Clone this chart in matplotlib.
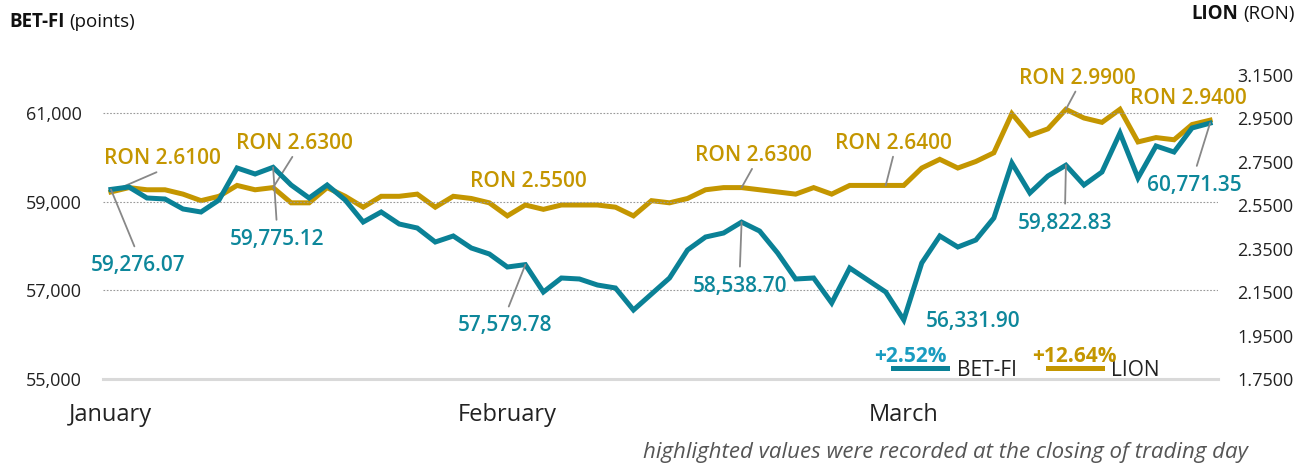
import numpy as np
import matplotlib
matplotlib.use('Agg')
import matplotlib.pyplot as plt
from matplotlib.ticker import FuncFormatter

plt.rcParams['font.family'] = ['Open Sans', 'DejaVu Sans']

# daily closing values, January - March
bet = [59276.07, 59331, 59083, 59060, 58835, 58767, 59038, 59760, 59624, 59775.12,
       59376, 59083, 59376, 59038, 58541, 58767, 58496, 58406, 58090, 58226,
       57955, 57820, 57526, 57579.78, 56962, 57278, 57256, 57120, 57053, 56556,
       56917, 57278, 57910, 58203, 58293, 58538.70, 58338, 57842, 57256, 57278,
       56714, 57504, 57233, 56962, 56331.90, 57617, 58226, 57977, 58135, 58632,
       59872, 59196, 59579, 59822.83, 59376, 59669, 60549, 59534, 60256, 60120,
       60662, 60771.35]
lion = [2.61, 2.63, 2.62, 2.62, 2.60, 2.57, 2.59, 2.64, 2.62, 2.63,
        2.56, 2.56, 2.63, 2.59, 2.54, 2.59, 2.59, 2.60, 2.54, 2.59,
        2.58, 2.56, 2.50, 2.55, 2.53, 2.55, 2.55, 2.55, 2.54, 2.50,
        2.57, 2.56, 2.58, 2.62, 2.63, 2.63, 2.62, 2.61, 2.60, 2.63,
        2.60, 2.64, 2.64, 2.64, 2.64, 2.72, 2.76, 2.72, 2.75, 2.79,
        2.97, 2.87, 2.90, 2.99, 2.95, 2.93, 2.99, 2.84, 2.86, 2.85,
        2.92, 2.94]
months = ['January', 'February', 'March']
month_idx = [0, 22, 44]
bet_ticks = [55000, 57000, 59000, 61000]
lion_ticks = [1.75, 1.95, 2.15, 2.35, 2.55, 2.75, 2.95, 3.15]
# highlighted points: index, text offset (px), connector side
lion_marks = [(0, 52, 33, 'b'), (9, 21, 44, 'b'), (23, 3, 24, None), (35, 12, 32, 'b'),
              (43, 8, 42, 'b'), (53, 11, 31, 'b'), (61, -22, 22, None)]
bet_marks = [(0, 27, -76, 't'), (9, 4, -72, 't'), (23, -20, -61, 't'), (35, -2, -64, 't'),
             (44, 69, -2, None), (53, -1, -58, 't'), (61, -16, -62, 't')]

TEAL = '#0a8196'
TEAL_TXT = '#0d879b'
GOLD = '#c49600'
GREY = '#888888'
W, H = 1313, 465

fig = plt.figure(figsize=(W/100, H/100), dpi=100)
ax = fig.add_axes([103/W, 1-379/H, 1115/W, 304.5/H])
ax2 = ax.twinx()
ax.set_zorder(ax2.get_zorder()+1)
ax.patch.set_visible(False)

x = np.arange(len(bet))
l1, = ax.plot(x, bet, color=TEAL, lw=3.6, solid_joinstyle='miter', label='BET-FI')
l2, = ax2.plot(x, lion, color=GOLD, lw=3.6, solid_joinstyle='miter', label='LION')

ax.set_xlim(-0.44, len(bet)-1+0.44)
ax.set_ylim(55000, 55000 + 304.5*6000/266)
ax2.set_ylim(1.75, 3.15)

ax.set_yticks(bet_ticks)
ax.yaxis.set_major_formatter(FuncFormatter(lambda v, p: '{:,.0f}'.format(v)))
ax2.set_yticks(lion_ticks)
ax2.yaxis.set_major_formatter(FuncFormatter(lambda v, p: '{:.4f}'.format(v)))
ax.set_xticks(month_idx)
ax.set_xticklabels(months)

ax.tick_params(axis='y', length=0, pad=15, labelsize=13, labelcolor='#222222')
ax2.tick_params(axis='y', length=0, pad=14, labelsize=13, labelcolor='#222222')
ax.tick_params(axis='x', length=0, pad=17, labelsize=17, labelcolor='#222222')

for a in (ax, ax2):
    for s in a.spines.values():
        s.set_visible(False)
ax.spines['bottom'].set_visible(True)
ax.spines['bottom'].set_color('#d9d9d9')
ax.spines['bottom'].set_linewidth(2.2)
ax.yaxis.grid(True, linestyle=(0, (1.5, 1.5)), color='#999999', lw=0.8)
ax.set_axisbelow(True)

def mark(a, data, marks, color, fmt):
    for i, dx, dy, side in marks:
        props = None
        if side == 'b':
            props = dict(arrowstyle='-', color=GREY, lw=1.3, relpos=(0.5, 0), shrinkA=0, shrinkB=0)
        elif side == 't':
            props = dict(arrowstyle='-', color=GREY, lw=1.3, relpos=(0.5, 1), shrinkA=4.5, shrinkB=0)
        a.annotate(fmt(data[i]), xy=(i, data[i]), xytext=(dx, dy), textcoords='offset pixels',
                   ha='center', va='center', color=color, fontsize=15, fontweight='semibold',
                   arrowprops=props, zorder=5)

mark(ax2, lion, lion_marks, GOLD, lambda v: 'RON {:.4f}'.format(v))
mark(ax, bet, bet_marks, TEAL_TXT, lambda v: '{:,.2f}'.format(v))

leg = ax.legend(handles=[l1, l2], loc='center left', bbox_to_anchor=(893/W, 1-370/H),
                bbox_transform=fig.transFigure, ncol=2, frameon=False, fontsize=15,
                borderpad=0, borderaxespad=0, handlelength=2.6, handletextpad=0.45,
                columnspacing=1.5)
for t in leg.get_texts():
    t.set_color('#222222')

bet_chg = (bet[-1]/bet[0]-1)*100
lion_chg = (lion[-1]/lion[0]-1)*100
fig.text(910/W, 1-356/H, '{:+.2f}%'.format(bet_chg), ha='center', va='center',
         color='#1a9cc0', fontsize=15, fontweight='bold')
fig.text(1074/W, 1-357/H, '{:+.2f}%'.format(lion_chg), ha='center', va='center',
         color=GOLD, fontsize=15, fontweight='bold')

# axis titles
fig.text(9/W, 1-22/H, 'BET-FI', ha='left', va='center', fontsize=13.5, fontweight='bold', color='#111111')
fig.text(69/W, 1-22/H, '(points)', ha='left', va='center', fontsize=13.5, color='#111111')
fig.text(1238/W, 1-14/H, 'LION', ha='right', va='center', fontsize=13.5, fontweight='bold', color='#111111')
fig.text(1295/W, 1-14/H, '(RON)', ha='right', va='center', fontsize=13.5, color='#111111')

fig.text(1248/W, 1-452/H, 'highlighted values were recorded at the closing of trading day',
         ha='right', va='center', fontsize=16, style='italic', color='#555555')

fig.savefig('out.png', dpi=100)
